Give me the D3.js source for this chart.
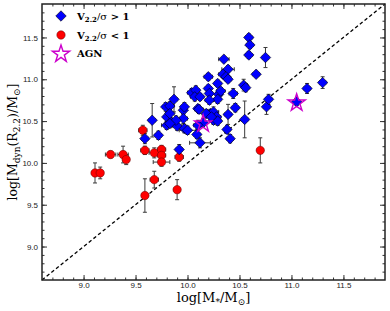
<!DOCTYPE html>
<html>
<head>
<meta charset="utf-8">
<script src="https://cdn.jsdelivr.net/npm/d3@7"></script>
<style>
  body { margin: 0; background: #fff; }
  svg { display: block; font-family: "DejaVu Serif", serif; }
  .tick text { font-size: 8px; fill: #222; }
</style>
</head>
<body>
<div id="chart"></div>
<script>
// high V/sigma galaxies: logMstar, logMdyn and their errors
const blueX = [9.66, 9.59, 9.72, 9.92, 9.80, 9.80, 9.84, 9.79, 9.83, 9.87, 9.90, 9.96, 9.96, 9.97, 9.97, 10.00,
  10.04, 10.08, 10.07, 10.10, 10.12, 10.15, 10.59, 10.60, 10.59, 10.75, 10.35, 10.39, 10.66, 10.34, 10.37, 10.39,
  10.20, 10.29, 10.54, 10.56, 10.20, 10.21, 10.12, 10.30, 10.32, 10.44, 10.29, 10.21, 10.11, 10.46, 10.22, 10.25,
  10.39, 10.28, 10.25, 10.29, 10.10, 10.38, 10.41, 10.55, 10.76, 10.78, 11.05, 11.15, 11.30, 9.83, 9.89, 9.83,
  10.18, 10.23, 10.09];
const blueY = [10.51, 10.29, 10.33, 10.16, 10.45, 10.55, 10.49, 10.67, 10.68, 10.76, 10.44, 10.63, 10.53, 10.67, 10.41, 10.39,
  10.84, 10.87, 10.79, 10.65, 10.24, 10.48, 11.50, 11.41, 11.29, 11.26, 11.24, 11.12, 11.06, 11.06, 11.03, 11.00,
  11.03, 10.95, 10.93, 10.90, 10.89, 10.83, 10.79, 10.82, 10.86, 10.83, 10.76, 10.75, 10.64, 10.66, 10.59, 10.61,
  10.58, 10.55, 10.51, 10.50, 10.45, 10.40, 10.29, 10.52, 10.67, 10.76, 10.73, 10.89, 10.96, 10.59, 10.51, 10.47,
  10.59, 10.55, 10.34];
const blueXErr = [0.03, 0.03, 0.03, 0.03, 0.05, 0.03, 0.04, 0.03, 0.04, 0.03, 0.04, 0.03, 0.04, 0.03, 0.04, 0.08,
  0.04, 0.03, 0.04, 0.03, 0.10, 0.03, 0.03, 0.03, 0.03, 0.03, 0.05, 0.06, 0.03, 0.04, 0.03, 0.03,
  0.04, 0.03, 0.03, 0.03, 0.03, 0.03, 0.03, 0.03, 0.04, 0.04, 0.03, 0.04, 0.04, 0.03, 0.04, 0.05,
  0.03, 0.04, 0.04, 0.03, 0.04, 0.03, 0.03, 0.03, 0.03, 0.03, 0.03, 0.03, 0.03, 0.04, 0.03, 0.04,
  0.04, 0.03, 0.03];
const blueYErr = [0.20, 0.06, 0.05, 0.06, 0.05, 0.06, 0.05, 0.05, 0.05, 0.15, 0.05, 0.05, 0.06, 0.05, 0.05, 0.05,
  0.05, 0.05, 0.05, 0.04, 0.06, 0.05, 0.04, 0.04, 0.04, 0.12, 0.03, 0.04, 0.03, 0.04, 0.04, 0.04,
  0.04, 0.04, 0.07, 0.05, 0.04, 0.04, 0.04, 0.04, 0.04, 0.06, 0.05, 0.05, 0.05, 0.05, 0.05, 0.06,
  0.12, 0.05, 0.05, 0.05, 0.06, 0.05, 0.05, 0.22, 0.09, 0.06, 0.04, 0.06, 0.07, 0.05, 0.05, 0.05,
  0.05, 0.05, 0.05];

// low V/sigma galaxies
const redX = [9.26, 9.38, 9.41, 9.11, 9.16, 9.59, 9.68, 9.90, 9.59, 9.68, 9.75, 9.75, 9.75, 9.92, 9.57, 10.70];
const redY = [10.10, 10.10, 10.04, 9.88, 9.88, 9.61, 9.80, 9.68, 10.15, 10.12, 10.16, 10.09, 10.01, 10.07, 10.39, 10.15];
const redXErr = [0.05, 0.05, 0.03, 0.03, 0.03, 0.03, 0.04, 0.03, 0.04, 0.05, 0.04, 0.04, 0.08, 0.04, 0.04, 0.03];
const redYErr = [0.04, 0.10, 0.06, 0.12, 0.07, 0.20, 0.10, 0.12, 0.05, 0.06, 0.05, 0.05, 0.05, 0.05, 0.06, 0.15];

// AGN hosts
const agnX = [10.15, 11.05];
const agnY = [10.48, 10.73];

const majorTicks = [9.0, 9.5, 10.0, 10.5, 11.0, 11.5];
const minorTicks = d3.range(87, 119).map(d => d / 10);

const width = 390, height = 311;
const margin = { top: 4, right: 5, bottom: 31, left: 42 };
const domain = [8.6, 11.9];

const svg = d3.select("#chart").append("svg")
  .attr("width", width)
  .attr("height", height);

const x = d3.scaleLinear().domain(domain).range([margin.left, width - margin.right]);
const y = d3.scaleLinear().domain(domain).range([height - margin.bottom, margin.top]);

const g = svg.append("g");

// axes, ticks point inward
function addAxis(axisFn, scale, transform, showLabels, pad) {
  g.append("g")
    .attr("transform", transform)
    .call(axisFn(scale).tickValues(minorTicks).tickSizeInner(-2.5).tickSizeOuter(0).tickFormat(""))
    .call(a => a.select(".domain").remove())
    .selectAll("line").attr("stroke", "#333");
  const major = g.append("g")
    .attr("transform", transform)
    .call(axisFn(scale).tickValues(majorTicks).tickSizeInner(-5).tickSizeOuter(0).tickPadding(pad)
      .tickFormat(showLabels ? d3.format(".1f") : ""));
  major.select(".domain").remove();
  major.selectAll("line").attr("stroke", "#333");
}
addAxis(d3.axisBottom, x, `translate(0,${height - margin.bottom})`, true, 2.5);
addAxis(d3.axisTop, x, `translate(0,${margin.top})`, false, 3);
addAxis(d3.axisLeft, y, `translate(${margin.left},0)`, true, 4);
addAxis(d3.axisRight, y, `translate(${width - margin.right},0)`, false, 3);

// one-to-one line
g.append("line")
  .attr("x1", x(domain[0])).attr("y1", y(domain[0]))
  .attr("x2", x(domain[1])).attr("y2", y(domain[1]))
  .attr("stroke", "#000")
  .attr("stroke-width", 1.3)
  .attr("stroke-dasharray", "3.5,2.5");

function errorBars(xs, ys, xe, ye) {
  const eb = g.append("g").attr("stroke", "#3a3a3a").attr("stroke-width", 1);
  xs.forEach((xv, i) => {
    const cx = x(xv), cy = y(ys[i]);
    const x0 = x(xv - xe[i]), x1 = x(xv + xe[i]);
    const y0 = y(ys[i] - ye[i]), y1 = y(ys[i] + ye[i]);
    eb.append("line").attr("x1", x0).attr("x2", x1).attr("y1", cy).attr("y2", cy);
    eb.append("line").attr("x1", cx).attr("x2", cx).attr("y1", y0).attr("y2", y1);
    eb.append("line").attr("x1", x0).attr("x2", x0).attr("y1", cy - 2).attr("y2", cy + 2);
    eb.append("line").attr("x1", x1).attr("x2", x1).attr("y1", cy - 2).attr("y2", cy + 2);
    eb.append("line").attr("x1", cx - 2).attr("x2", cx + 2).attr("y1", y0).attr("y2", y0);
    eb.append("line").attr("x1", cx - 2).attr("x2", cx + 2).attr("y1", y1).attr("y2", y1);
  });
}

errorBars(redX, redY, redXErr, redYErr);
errorBars(blueX, blueY, blueXErr, blueYErr);

const diamond = d3.symbol().type(d3.symbolDiamond2).size(70);
const star = d3.symbol().type(d3.symbolStar).size(92);

g.append("g").selectAll("circle")
  .data(redX)
  .join("circle")
  .attr("cx", d => x(d))
  .attr("cy", (d, i) => y(redY[i]))
  .attr("r", 4.2)
  .attr("fill", "#ff0000")
  .attr("stroke", "#600")
  .attr("stroke-width", 0.5);

g.append("g").selectAll("path")
  .data(blueX)
  .join("path")
  .attr("d", diamond)
  .attr("transform", (d, i) => `translate(${x(d)},${y(blueY[i])})`)
  .attr("fill", "#0000ff")
  .attr("stroke", "#000")
  .attr("stroke-width", 0.6);

g.append("g").selectAll("path")
  .data(agnX)
  .join("path")
  .attr("d", star)
  .attr("transform", (d, i) => `translate(${x(d)},${y(agnY[i]) + 1})`)
  .attr("fill", "none")
  .attr("stroke", "#cc00cc")
  .attr("stroke-width", 1.4);

// frame
g.append("rect")
  .attr("x", margin.left).attr("y", margin.top)
  .attr("width", width - margin.left - margin.right)
  .attr("height", height - margin.top - margin.bottom)
  .attr("fill", "none")
  .attr("stroke", "#222")
  .attr("stroke-width", 1.5);

// legend
const legend = g.append("g").attr("font-weight", "bold").attr("font-size", 10);
legend.append("path").attr("d", diamond).attr("transform", "translate(61,16)")
  .attr("fill", "#0000ff").attr("stroke", "#000").attr("stroke-width", 0.6);
legend.append("circle").attr("cx", 61).attr("cy", 35).attr("r", 4.2)
  .attr("fill", "#ff0000").attr("stroke", "#600").attr("stroke-width", 0.5);
legend.append("path").attr("d", star).attr("transform", "translate(61,54)")
  .attr("fill", "none").attr("stroke", "#cc00cc").attr("stroke-width", 1.4);

function vLabel(yPos, sign) {
  const t = legend.append("text").attr("x", 77).attr("y", yPos);
  t.append("tspan").text("V");
  t.append("tspan").attr("font-size", 7).attr("dy", 2.5).text("2.2");
  t.append("tspan").attr("dy", -2.5).attr("font-weight", "normal").text("/σ");
  t.append("tspan").text(` ${sign} 1`);
}
vLabel(19.5, ">");
vLabel(38.5, "<");
legend.append("text").attr("x", 77).attr("y", 57).text("AGN");

// axis titles
const xt = svg.append("text")
  .attr("x", (margin.left + width - margin.right) / 2)
  .attr("y", 302)
  .attr("text-anchor", "middle")
  .attr("font-size", 13);
xt.append("tspan").text("log[M");
xt.append("tspan").attr("font-size", 9).attr("dy", 3).text("*");
xt.append("tspan").attr("dy", -3).text("/M");
xt.append("tspan").attr("font-size", 9).attr("dy", 3).text("⊙");
xt.append("tspan").attr("dy", -3).text("]");

const yt = svg.append("text")
  .attr("transform", `translate(17,${(margin.top + height - margin.bottom) / 2}) rotate(-90)`)
  .attr("text-anchor", "middle")
  .attr("font-size", 12.5);
yt.append("tspan").text("log[M");
yt.append("tspan").attr("font-size", 9).attr("dy", 3).text("dyn");
yt.append("tspan").attr("dy", -3).text("(R");
yt.append("tspan").attr("font-size", 9).attr("dy", 3).text("2.2");
yt.append("tspan").attr("dy", -3).text(")/M");
yt.append("tspan").attr("font-size", 9).attr("dy", 3).text("⊙");
yt.append("tspan").attr("dy", -3).text("]");
</script>
</body>
</html>
